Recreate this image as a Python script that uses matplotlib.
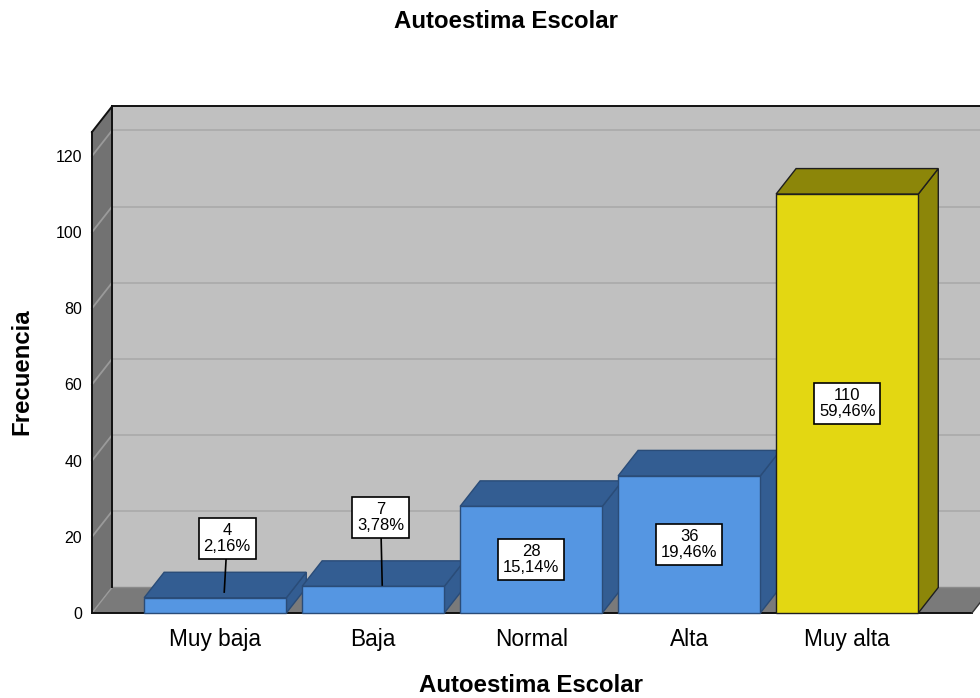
import matplotlib
matplotlib.use("Agg")
import matplotlib.pyplot as plt
from matplotlib.patches import Polygon, Rectangle

# ---------------- data ----------------
categories = ["Muy baja", "Baja", "Normal", "Alta", "Muy alta"]
frequencies = [4, 7, 28, 36, 110]
percent_labels = ["2,16%", "3,78%", "15,14%", "19,46%", "59,46%"]
yticks = [0, 20, 40, 60, 80, 100, 120]
title_text = "Autoestima Escolar"
xlabel_text = "Autoestima Escolar"
ylabel_text = "Frecuencia"

# ---------------- style ----------------
plt.rcParams['font.family'] = ['Liberation Sans', 'DejaVu Sans']
BLUE_FRONT, BLUE_DARK, BLUE_EDGE = "#5596e2", "#335d92", "#2a4c78"
YEL_FRONT, YEL_DARK, YEL_EDGE = "#e3d712", "#8c8609", "#1e1e1e"
WALL_BACK, WALL_SIDE, FLOOR = "#c0c0c0", "#727272", "#7a7a7a"
GRID_BACK, GRID_SIDE = "#acacac", "#9a9a9a"

W, H = 980, 698
fig = plt.figure(figsize=(W / 100, H / 100), dpi=100)
ax = fig.add_axes([92 / W, (H - 613) / H, 880 / W, 481 / H])
XMIN, XMAX = -0.78, 4.79
YMAX = 126.3
ax.set_xlim(XMIN, XMAX)
ax.set_ylim(0, YMAX)
DX = 20 / 158          # depth offset in category units
DY = 25.5 / 3.808      # depth offset in value units
BW = 0.9

for s in ax.spines.values():
    s.set_visible(False)
ax.patch.set_visible(False)

# walls
ax.add_patch(Rectangle((XMIN + DX, DY), (XMAX - XMIN) + 1, YMAX, facecolor=WALL_BACK,
                       edgecolor="none", zorder=1, clip_on=False))
ax.add_patch(Polygon([(XMIN, 0), (XMIN + DX, DY), (XMIN + DX, YMAX + DY), (XMIN, YMAX)],
                     closed=True, facecolor=WALL_SIDE, edgecolor="none", zorder=1, clip_on=False))
ax.add_patch(Polygon([(XMIN, 0), (XMAX, 0), (XMAX + DX, DY), (XMIN + DX, DY)],
                     closed=True, facecolor=FLOOR, edgecolor="none", zorder=1, clip_on=False))

# gridlines
for t in yticks[1:]:
    ax.plot([XMIN + DX, XMAX + 2], [t + DY, t + DY], color=GRID_BACK, lw=1.3, zorder=2, clip_on=False)
    ax.plot([XMIN, XMIN + DX], [t, t + DY], color=GRID_SIDE, lw=1.3, zorder=2, clip_on=False)
ax.plot([XMIN, XMIN + DX], [0, DY], color=GRID_SIDE, lw=1.0, zorder=2, clip_on=False)
ax.plot([XMIN + DX, XMAX + DX], [DY, DY], color="#8a8a8a", lw=1.0, zorder=2, clip_on=False)

# wall edges
edge_kw = dict(color="#111111", lw=1.4, zorder=3, clip_on=False, solid_capstyle="projecting")
ax.plot([XMIN + DX, XMAX + 2], [YMAX + DY, YMAX + DY], **edge_kw)
ax.plot([XMIN + DX, XMIN + DX], [DY, YMAX + DY], **edge_kw)
ax.plot([XMIN, XMIN + DX], [YMAX, YMAX + DY], **edge_kw)
ax.plot([XMIN, XMIN], [0, YMAX], **edge_kw)
ax.plot([XMIN, XMAX], [0, 0], **edge_kw)
ax.plot([XMAX, XMAX + DX], [0, DY], color="#333333", lw=1.0, zorder=3, clip_on=False)

# bars
n = len(categories)
max_idx = frequencies.index(max(frequencies))
for i, v in enumerate(frequencies):
    if i == max_idx:
        fc, dc, ec = YEL_FRONT, YEL_DARK, YEL_EDGE
    else:
        fc, dc, ec = BLUE_FRONT, BLUE_DARK, BLUE_EDGE
    z = 5 + i * 0.1
    x0, x1 = i - BW / 2, i + BW / 2
    ax.add_patch(Polygon([(x1, 0), (x1 + DX, DY), (x1 + DX, v + DY), (x1, v)], closed=True,
                         facecolor=dc, edgecolor=ec, lw=1.0, zorder=z, clip_on=False))
    ax.add_patch(Polygon([(x0, v), (x1, v), (x1 + DX, v + DY), (x0 + DX, v + DY)], closed=True,
                         facecolor=dc, edgecolor=ec, lw=1.0, zorder=z, clip_on=False))
    ax.add_patch(Rectangle((x0, 0), BW, v, facecolor=fc, edgecolor=ec, lw=1.0,
                           zorder=z + 0.01, clip_on=False))

# value labels
small_label_layout = {0: (0.076, 19.6, 0.057, 5.5), 1: (0.047, 25.1, 0.057, 7.35)}
for i, (v, p) in enumerate(zip(frequencies, percent_labels)):
    txt = f"{v}\n{p}"
    if i in small_label_layout:
        bx, by, ex, ey = small_label_layout[i]
        ax.plot([i + bx, i + ex], [by, ey], color="black", lw=1.2, zorder=18)
        pos = (i + bx, by)
    else:
        pos = (i, v / 2)
    ax.text(pos[0], pos[1], txt, ha="center", va="center", fontsize=12, linespacing=1.1,
            zorder=20, bbox=dict(boxstyle="square,pad=0.28", facecolor="white",
                                 edgecolor="black", lw=1.2))

# axes ticks & labels
ax.set_yticks(yticks)
ax.set_yticklabels([str(t) for t in yticks], fontsize=11.5)
ax.set_xticks(range(n))
ax.set_xticklabels(categories, fontsize=16.3)
ax.tick_params(axis="y", length=0, pad=7)
ax.tick_params(axis="x", length=0, pad=11)

fig.text(506 / W, 1 - 22 / H, title_text, ha="center", va="center", fontsize=17.3, fontweight="bold")
fig.text(531 / W, 1 - 686 / H, xlabel_text, ha="center", va="center", fontsize=17.3, fontweight="bold")
fig.text(22 / W, 1 - 372 / H, ylabel_text, ha="center", va="center", rotation=90,
         fontsize=17.3, fontweight="bold")

fig.savefig("out.png", dpi=100)
